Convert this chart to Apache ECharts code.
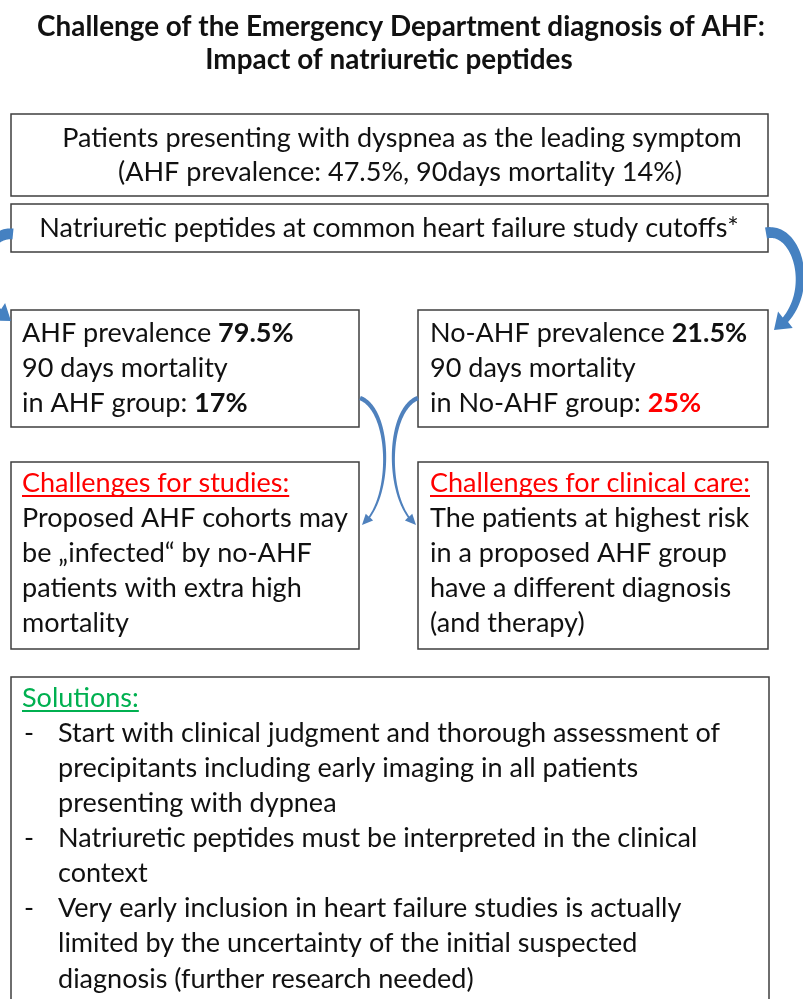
<!DOCTYPE html>
<html>
<head>
    <meta charset="utf-8">
    <title>Challenge of the ED diagnosis of AHF</title>
    <script src="https://cdn.jsdelivr.net/npm/echarts@6/dist/echarts.min.js"></script>
    <style>
        html, body { margin: 0; padding: 0; background: #fff; }
        #diagram { width: 803px; height: 999px; }
    </style>
</head>
<body>
    <div id="diagram"></div>
    <script type="text/javascript">
        // texts of the flowchart
        var titleLines = ['Challenge of the Emergency Department diagnosis of AHF:', 'Impact of natriuretic peptides'];
        var cohortLines = ['Patients presenting with dyspnea as the leading symptom', '(AHF prevalence: 47.5%, 90days mortality 14%)'];
        var cutoffText = 'Natriuretic peptides at common heart failure study cutoffs*';
        var ahfLines = ['AHF prevalence {b|79.5%}', '90 days mortality', 'in AHF group: {b|17%}'];
        var noAhfLines = ['No-AHF prevalence {b|21.5%}', '90 days mortality', 'in No-AHF group: {r|25%}'];
        var studyHeader = 'Challenges for studies:';
        var studyLines = ['Proposed AHF cohorts may', 'be \u201Einfected\u201C by no-AHF', 'patients with extra high', 'mortality'];
        var careHeader = 'Challenges for clinical care:';
        var careLines = ['The patients at highest risk', 'in a proposed AHF group', 'have a different diagnosis', '(and therapy)'];
        var solutionHeader = 'Solutions:';
        var solutionItems = [
            ['Start with clinical judgment and thorough assessment of', 'precipitants including early imaging in all patients', 'presenting with dypnea'],
            ['Natriuretic peptides must be interpreted in the clinical', 'context'],
            ['Very early inclusion in heart failure studies is actually', 'limited by the uncertainty of the initial suspected', 'diagnosis (further research needed)']
        ];

        var FONT = 'Lato';
        var TEXT = '#111111';
        var RED = '#ff0000';
        var GREEN = '#00b050';
        var BORDER = '#3f3f3f';

        var ctx = document.createElement('canvas').getContext('2d');
        function textWidth(str, size, weight) {
            ctx.font = (weight || 'normal') + ' ' + size + 'px ' + FONT;
            return ctx.measureText(str).width;
        }
        // font sizes fitted to the width of one reference line
        var BODY = 20 * 662 / textWidth(solutionItems[0][0], 20);
        var TITLE = 20 * 728 / textWidth(titleLines[0], 20, 'bold');

        var rich = {
            b: { fontFamily: FONT, fontSize: BODY, fontWeight: 'bold', fill: TEXT },
            r: { fontFamily: FONT, fontSize: BODY, fontWeight: 'bold', fill: RED }
        };

        function txt(str, x, y, opts) {
            opts = opts || {};
            return {
                type: 'text',
                z: 10,
                style: {
                    text: str, x: x, y: y,
                    fontFamily: FONT,
                    fontSize: opts.size || BODY,
                    fontWeight: opts.weight || 'normal',
                    fill: opts.color || TEXT,
                    align: opts.align || 'left',
                    verticalAlign: 'middle',
                    rich: rich
                }
            };
        }
        function box(x, y, w, h) {
            return {
                type: 'rect', z: 1,
                shape: { x: x, y: y, width: w, height: h },
                style: { fill: '#fff', stroke: BORDER, lineWidth: 1.5 }
            };
        }
        function underline(str, x, y, color) {
            return {
                type: 'line', z: 10,
                shape: { x1: x, y1: y, x2: x + textWidth(str, BODY), y2: y },
                style: { stroke: color, lineWidth: 2 }
            };
        }

        // curved tapered arrow along a cubic bezier
        function bez(p, t) {
            var u = 1 - t;
            return [
                u * u * u * p[0][0] + 3 * u * u * t * p[1][0] + 3 * u * t * t * p[2][0] + t * t * t * p[3][0],
                u * u * u * p[0][1] + 3 * u * u * t * p[1][1] + 3 * u * t * t * p[2][1] + t * t * t * p[3][1]
            ];
        }
        function arrow(p, w0, w1, headLen, headW, color) {
            var N = 80, pts = [], len = [0];
            for (var i = 0; i <= N; i++) {
                pts.push(bez(p, i / N));
                if (i > 0) len.push(len[i - 1] + Math.hypot(pts[i][0] - pts[i - 1][0], pts[i][1] - pts[i - 1][1]));
            }
            var stop = len[N] - headLen;
            var body = [];
            for (i = 0; i <= N && len[i] <= stop; i++) body.push({ p: pts[i], l: len[i] });
            var left = [], right = [];
            for (i = 0; i < body.length; i++) {
                var a = body[Math.max(0, i - 1)].p, b = body[Math.min(body.length - 1, i + 1)].p;
                var dx = b[0] - a[0], dy = b[1] - a[1], n = Math.hypot(dx, dy) || 1;
                var nx = -dy / n, ny = dx / n;
                var w = (w0 + (w1 - w0) * body[i].l / stop) / 2;
                left.push([body[i].p[0] + nx * w, body[i].p[1] + ny * w]);
                right.push([body[i].p[0] - nx * w, body[i].p[1] - ny * w]);
            }
            var B = body[body.length - 1].p, tip = pts[N];
            var ddx = tip[0] - B[0], ddy = tip[1] - B[1], dn = Math.hypot(ddx, ddy);
            var hx = -ddy / dn * headW / 2, hy = ddx / dn * headW / 2;
            var shape = left.concat([[B[0] + hx, B[1] + hy], tip, [B[0] - hx, B[1] - hy]], right.reverse());
            return { type: 'polygon', z: 5, shape: { points: shape }, style: { fill: color } };
        }

        var els = [];
        // title
        els.push(txt(titleLines[0], 401, 27, { size: TITLE, weight: 'bold', align: 'center' }));
        els.push(txt(titleLines[1], 389, 60, { size: TITLE, weight: 'bold', align: 'center' }));

        // top boxes
        els.push(box(11, 114, 757, 82));
        els.push(txt(cohortLines[0], 402, 138, { align: 'center' }));
        els.push(txt(cohortLines[1], 400, 172, { align: 'center' }));
        els.push(box(11, 204, 757, 48));
        els.push(txt(cutoffText, 389, 228, { align: 'center' }));

        // prevalence boxes
        els.push(box(11, 310, 348, 117));
        els.push(box(418, 310, 350, 117));
        ahfLines.forEach(function (s, i) { els.push(txt(s, 22, 333 + i * 35)); });
        noAhfLines.forEach(function (s, i) { els.push(txt(s, 430, 333 + i * 35)); });

        // challenge boxes
        els.push(box(11, 462, 348, 187));
        els.push(box(418, 462, 350, 187));
        els.push(txt(studyHeader, 22, 483, { color: RED }));
        els.push(underline(studyHeader, 22, 496, RED));
        studyLines.forEach(function (s, i) { els.push(txt(s, 22, 518 + i * 35.2)); });
        els.push(txt(careHeader, 430, 483, { color: RED }));
        els.push(underline(careHeader, 430, 496, RED));
        careLines.forEach(function (s, i) { els.push(txt(s, 430, 518 + i * 35.2)); });

        // solutions box
        els.push(box(11, 677, 758, 340));
        els.push(txt(solutionHeader, 22, 698, { color: GREEN }));
        els.push(underline(solutionHeader, 22, 711, GREEN));
        var row = 1;
        solutionItems.forEach(function (item) {
            item.forEach(function (s, j) {
                var y = 698 + row * 35.1;
                if (j === 0) els.push(txt('-', 24, y));
                els.push(txt(s, 58, y));
                row++;
            });
        });

        // arrows
        els.push(arrow([[766, 233], [800, 226], [818, 300], [774, 330]], 11, 7, 15, 22, '#4581c1'));
        els.push(arrow([[13, 234], [-20, 230], [-32, 298], [11, 321]], 11, 7, 15, 22, '#4581c1'));
        els.push(arrow([[360, 398], [392, 410], [393, 500], [362, 525]], 4.5, 1.8, 10, 10, '#4f81bd'));
        els.push(arrow([[418, 398], [386, 410], [385, 500], [416, 525]], 4.5, 1.8, 10, 10, '#4f81bd'));

        var chart = echarts.init(document.getElementById('diagram'), null, { renderer: 'canvas' });
        chart.setOption({
            backgroundColor: '#fff',
            animation: false,
            graphic: { elements: els }
        });
    </script>
</body>
</html>
